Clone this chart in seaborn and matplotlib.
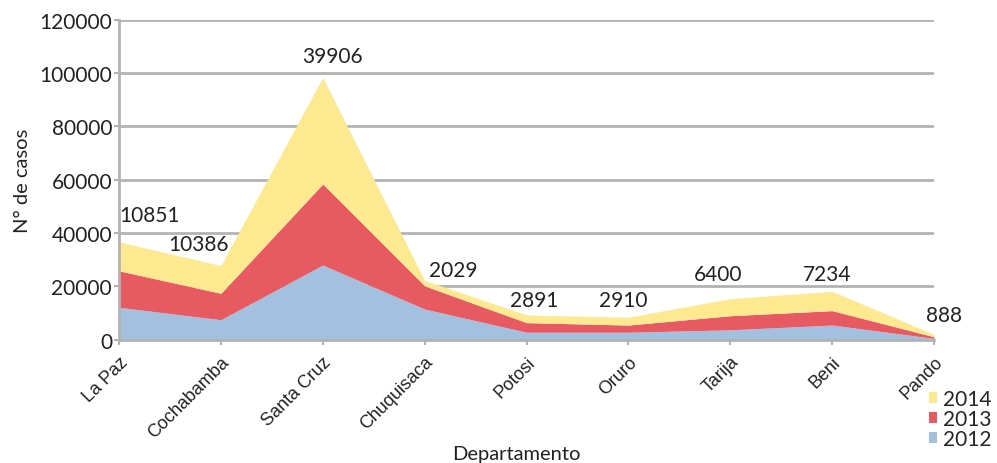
import matplotlib
matplotlib.use("Agg")
import matplotlib.pyplot as plt
import seaborn as sns
import numpy as np

departamentos = ["La Paz", "Cochabamba", "Santa Cruz", "Chuquisaca", "Potosi",
                 "Oruro", "Tarija", "Beni", "Pando"]
casos_2012 = [12150, 7500, 28000, 11500, 2800, 2800, 3700, 5500, 500]
casos_2013 = [13700, 9900, 30400, 8700, 3600, 2700, 5300, 5400, 600]
casos_2014 = [10851, 10386, 39906, 2029, 2891, 2910, 6400, 7234, 888]
etiquetas_2014 = ["10851", "10386", "39906", "2029", "2891", "2910", "6400", "7234", "888"]
anios = ["2012", "2013", "2014"]
colores = ["#A3C1DF", "#E85A62", "#FDE98F"]
# label offsets in pixels (dx, dy)
offsets = [(31, 27), (-22, 22), (10, 22), (29, 10), (8, 15), (-5, 17), (-12, 25), (-5, 17), (10, 19)]

sns.set_theme(style="white")
plt.rcParams["font.family"] = ["Lato", "DejaVu Sans"]

fig = plt.figure(figsize=(9.97, 4.64), dpi=100)
L, R, T, B = 119, 934, 20.7, 340.7
ax = fig.add_axes([L/997, 1-B/464, (R-L)/997, (B-T)/464])

x = np.arange(len(departamentos))
ax.stackplot(x, casos_2012, casos_2013, casos_2014, colors=colores,
             labels=anios, linewidth=0, zorder=2)

totales = np.array(casos_2012) + np.array(casos_2013) + np.array(casos_2014)
for i, (t, lab) in enumerate(zip(totales, etiquetas_2014)):
    ax.annotate(lab, (x[i], t), xytext=offsets[i], textcoords="offset pixels",
                ha="center", va="center", fontsize=15, color="#222222",
                annotation_clip=False)

grid_c = "#B3B3B3"
ax.set_xlim(0, 8)
ax.set_ylim(0, 120000)
ax.set_yticks(np.arange(0, 120001, 20000))
ax.set_yticklabels([f"{v}" for v in range(0, 120001, 20000)], fontsize=15, color="#222222")
ax.set_xticks(x)
ax.set_xticklabels(departamentos, rotation=45, ha="right", rotation_mode="anchor",
                   fontsize=13, family=["Liberation Sans", "DejaVu Sans"], color="#222222")
ax.yaxis.grid(True, color=grid_c, linewidth=2.0, zorder=0)
ax.xaxis.grid(False)
ax.set_axisbelow(True)
for s in ["top", "right"]:
    ax.spines[s].set_visible(False)
for s in ["left", "bottom"]:
    ax.spines[s].set_color(grid_c)
    ax.spines[s].set_linewidth(2.0)
    ax.spines[s].set_zorder(3)
ax.tick_params(axis="both", which="both", length=3.5, width=1.5, color=grid_c,
               left=True, bottom=True, direction="out", pad=1.5)
ax.tick_params(axis="x", pad=6)

ax.set_ylabel("N° de casos", fontsize=14.5, color="#222222", labelpad=6)
ax.set_xlabel("Departamento", fontsize=14.5, color="#222222")
ax.xaxis.set_label_coords(0.488, -0.328)

handles, labels = ax.get_legend_handles_labels()
leg = ax.legend(handles[::-1], labels[::-1], loc="lower left",
                bbox_to_anchor=(929/997, 14/464), bbox_transform=fig.transFigure,
                frameon=False, fontsize=15, handlelength=0.4, handleheight=0.4,
                handletextpad=0.25, labelspacing=0.0, borderpad=0, borderaxespad=0)

fig.savefig("out.png", dpi=100)
